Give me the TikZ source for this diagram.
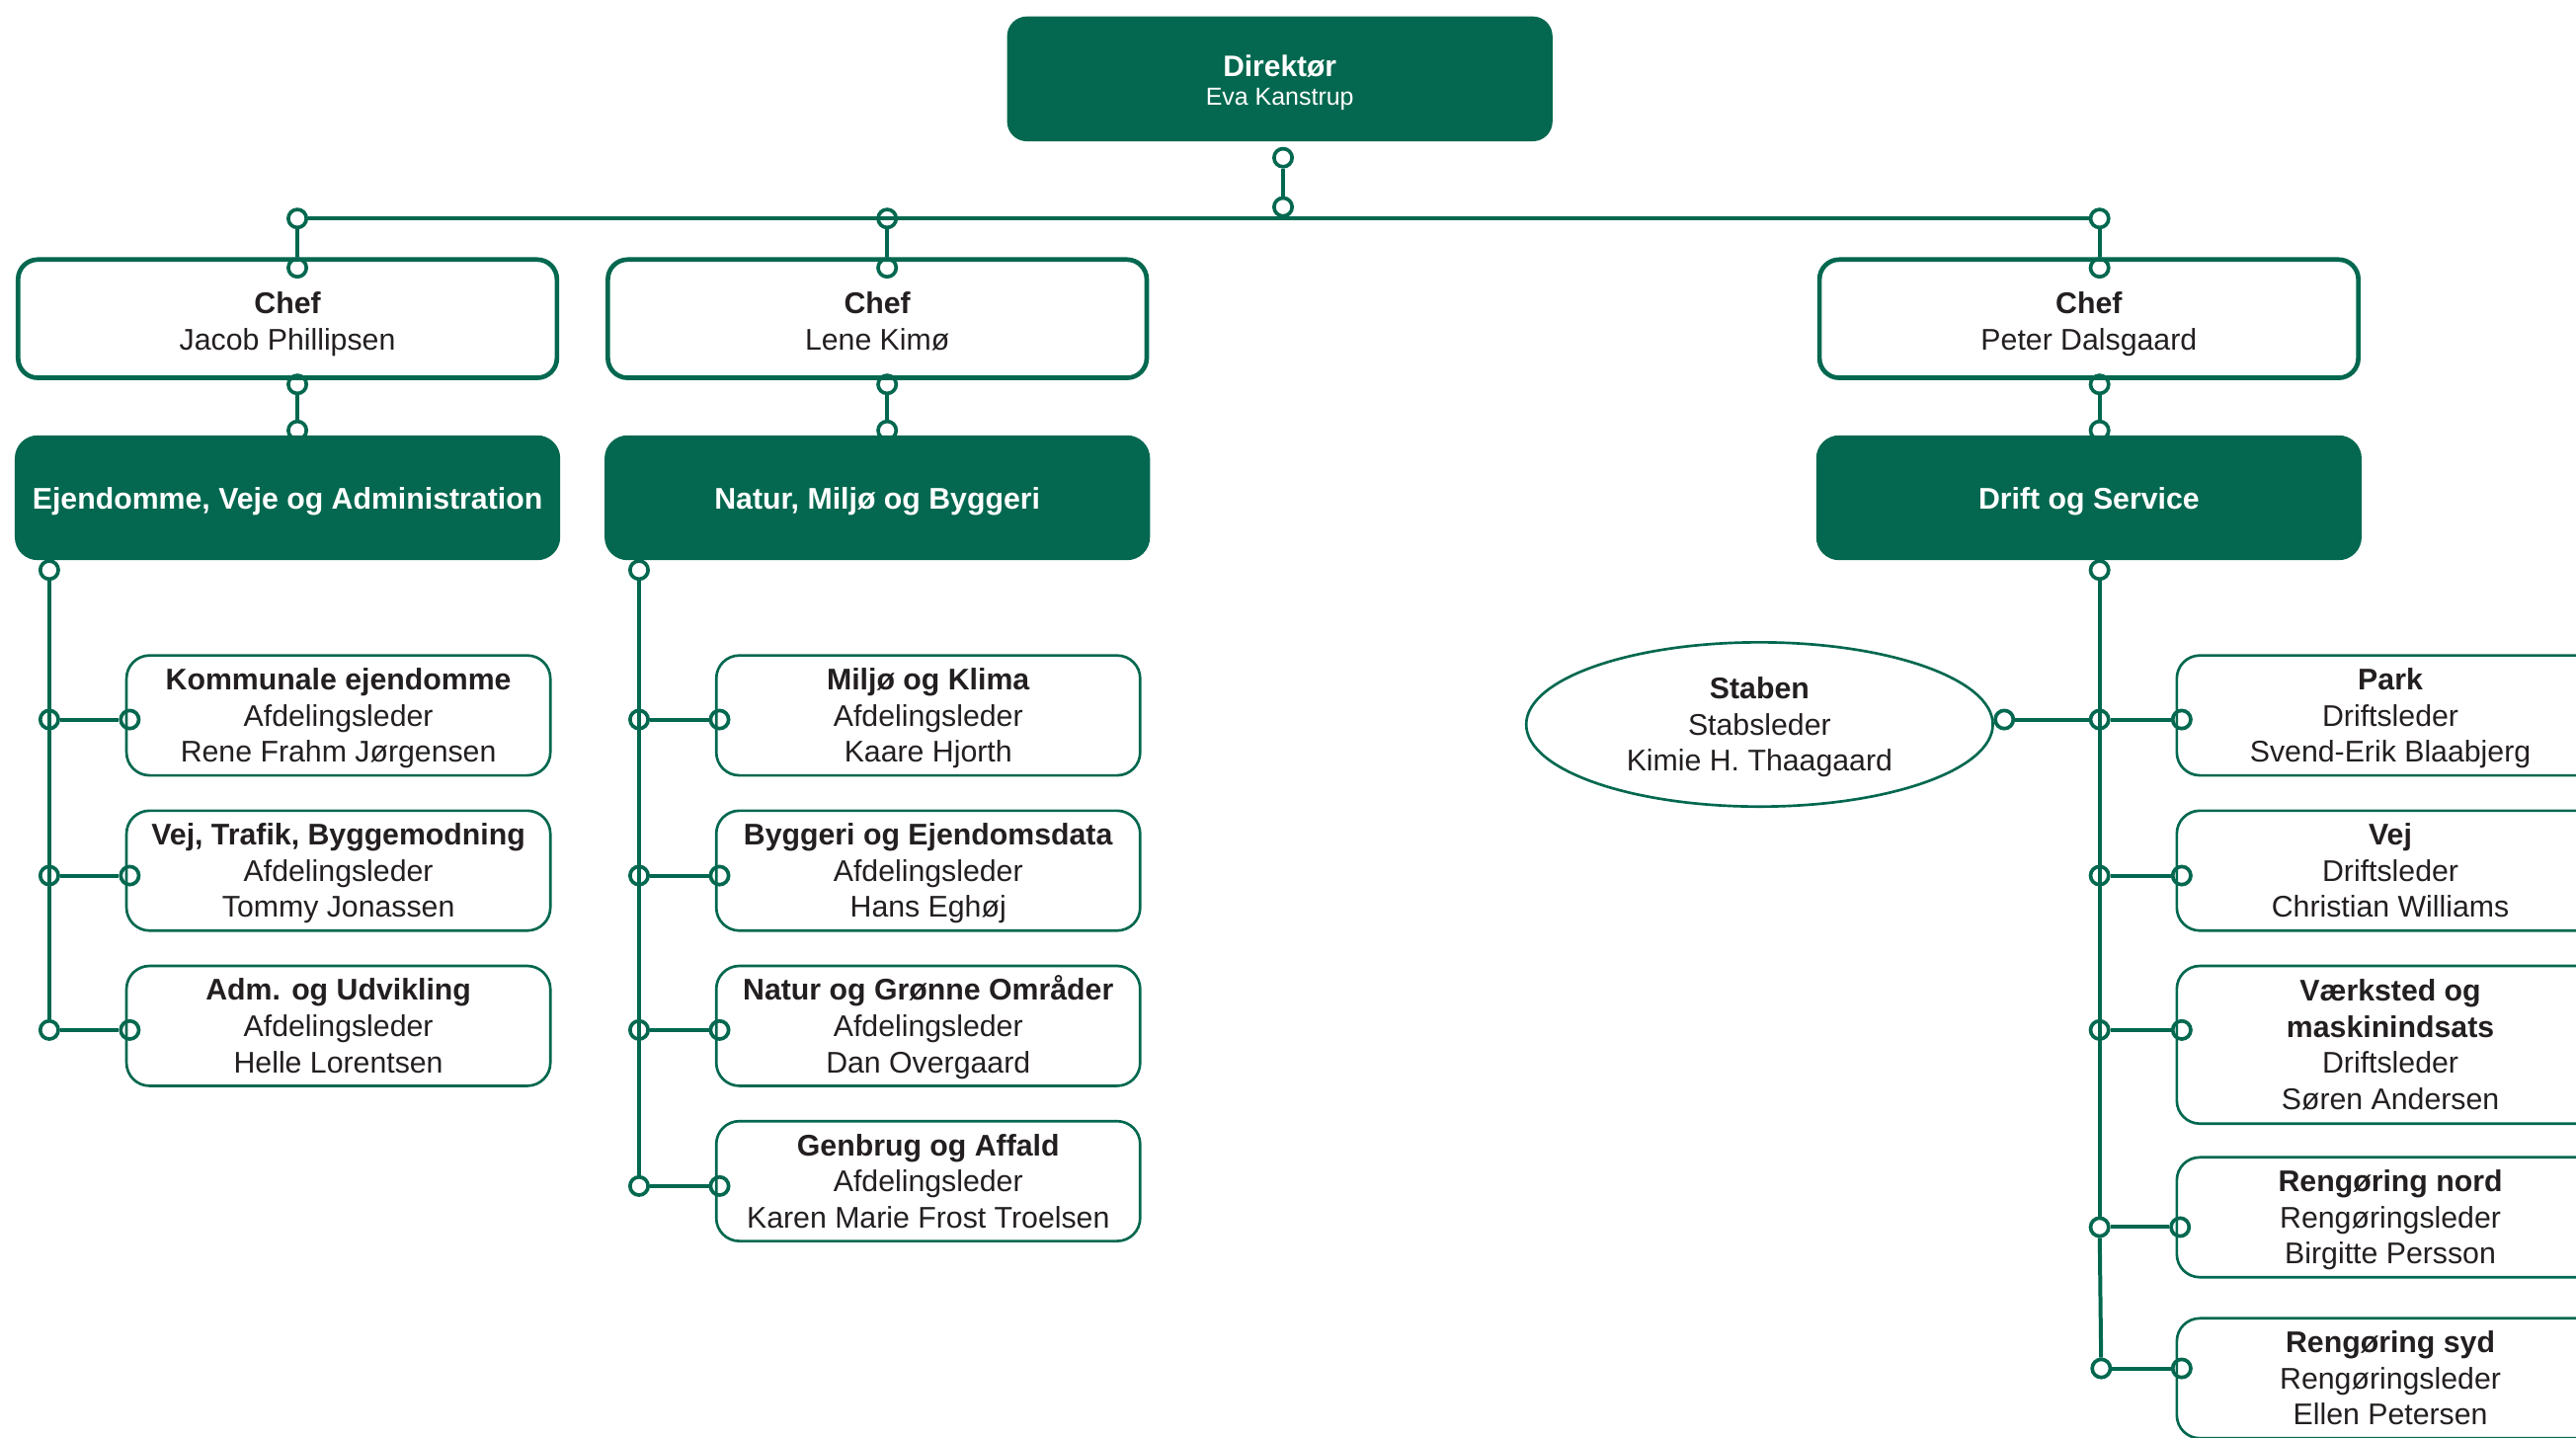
\documentclass[tikz,border=0pt]{standalone}
\usepackage{fontspec}
\setmainfont{Liberation Sans}
\usetikzlibrary{shapes.geometric}
\definecolor{grn}{HTML}{03684F}
\definecolor{txtc}{HTML}{231F20}
\newcommand{\ust}{\rule{0pt}{9.8pt}}
\newcommand{\cst}{\rule{0pt}{11.3pt}}
\tikzset{
  base/.style={font=\fontsize{9.1}{11}\selectfont, text=txtc, align=center, inner sep=0pt,
    execute at end node=\strut},
  dirbox/.style={font=\fontsize{7.5}{9}\selectfont, text=white, align=center, inner sep=0pt,
    fill=grn, rounded corners=6pt, minimum width=166pt, minimum height=38pt},
  chefbox/.style={base, draw=grn, fill=white, line width=1.4pt, rounded corners=6pt, minimum width=164pt, minimum height=36pt},
  deptbox/.style={base, fill=grn, text=white, font=\fontsize{9.1}{11}\selectfont\bfseries, rounded corners=7pt, minimum width=166pt, minimum height=38pt},
  unitbox/.style={base, draw=grn, fill=white, line width=0.8pt, rounded corners=7pt, minimum width=129pt, minimum height=36.5pt},
  stabbox/.style={base, ellipse, draw=grn, line width=0.8pt, minimum width=142pt, minimum height=50pt},
  dot/.style={circle, draw=grn, line width=1.1pt, minimum size=5.5pt, inner sep=0pt},
  conn/.style={draw=grn, line width=1.2pt}
}
\begin{document}
\begin{tikzpicture}[x=0.5pt,y=-0.5pt]
\useasboundingbox (0,0) rectangle (1568,875);
\clip (0,0) rectangle (1568,875);

% boxes
\node[dirbox] (dir) at (779,48) {\rule{0pt}{9.5pt}{\fontsize{9}{9}\selectfont\bfseries Direktør}\\Eva Kanstrup\rule[-2.2pt]{0pt}{0pt}};

\node[chefbox] (chef1) at (175,194) {\cst\textbf{Chef}\\Jacob Phillipsen};
\node[chefbox] (chef2) at (534,194) {\cst\textbf{Chef}\\Lene Kimø};
\node[chefbox] (chef3) at (1271.5,194) {\cst\textbf{Chef}\\Peter Dalsgaard};

\node[deptbox] (dept1) at (175,303) {\rule{0pt}{10.5pt}Ejendomme, Veje og Administration};
\node[deptbox] (dept2) at (534,303) {\rule{0pt}{10.5pt}Natur, Miljø og Byggeri};
\node[deptbox] (dept3) at (1271.5,303) {\rule{0pt}{10.5pt}Drift og Service};

\node[unitbox] (ua) at (206,435.5) {\ust\textbf{Kommunale ejendomme}\\Afdelingsleder\\Rene Frahm Jørgensen};
\node[unitbox] (ub) at (206,530) {\ust\textbf{Vej, Trafik, Byggemodning}\\Afdelingsleder\\Tommy Jonassen};
\node[unitbox] (uc) at (206,624.5) {\ust\textbf{Adm. og Udvikling}\\Afdelingsleder\\Helle Lorentsen};

\node[unitbox] (ma) at (565,435.5) {\ust\textbf{Miljø og Klima}\\Afdelingsleder\\Kaare Hjorth};
\node[unitbox] (mb) at (565,530) {\ust\textbf{Byggeri og Ejendomsdata}\\Afdelingsleder\\Hans Eghøj};
\node[unitbox] (mc) at (565,624.5) {\ust\textbf{Natur og Grønne Områder}\\Afdelingsleder\\Dan Overgaard};
\node[unitbox] (md) at (565,719) {\ust\textbf{Genbrug og Affald}\\Afdelingsleder\\Karen Marie Frost Troelsen};

\node[unitbox, minimum width=130pt] (ra) at (1455,435.5) {\ust\textbf{Park}\\Driftsleder\\Svend-Erik Blaabjerg};
\node[unitbox, minimum width=130pt] (rb) at (1455,530) {\ust\textbf{Vej}\\Driftsleder\\Christian Williams};
\node[unitbox, minimum width=130pt, minimum height=48pt] (rc) at (1455,636) {\ust\textbf{Værksted og}\\\textbf{maskinindsats}\\Driftsleder\\Søren Andersen};
\node[unitbox, minimum width=130pt] (rd) at (1455,741) {\ust\textbf{Rengøring nord}\\Rengøringsleder\\Birgitte Persson};
\node[unitbox, minimum width=130pt] (re) at (1455,839) {\ust\textbf{Rengøring syd}\\Rengøringsleder\\Ellen Petersen};

\node[stabbox] (stab) at (1071,441) {\ust\textbf{Staben}\\Stabsleder\\Kimie H. Thaagaard};

% connector dots
\node[dot] (ddir) at (781,96) {};
\node[dot] (dbus) at (781,126) {};
\node[dot] (b1) at (181,133) {};
\node[dot] (b2) at (540,133) {};
\node[dot] (b3) at (1278,133) {};
\node[dot] (ct1) at (181,163) {};
\node[dot] (ct2) at (540,163) {};
\node[dot] (ct3) at (1278,163) {};
\node[dot] (cb1) at (181,234) {};
\node[dot] (cb2) at (540,234) {};
\node[dot] (cb3) at (1278,234) {};
\node[dot] (dt1) at (181,262) {};
\node[dot] (dt2) at (540,262) {};
\node[dot] (dt3) at (1278,262) {};
\node[dot] (db1) at (30,347) {};
\node[dot] (db2) at (389,347) {};
\node[dot] (db3) at (1278,347) {};

\node[dot] (l1) at (30,438) {};
\node[dot] (l2) at (30,533) {};
\node[dot] (l3) at (30,627) {};
\node[dot] (la) at (79,438) {};
\node[dot] (lb) at (79,533) {};
\node[dot] (lc) at (79,627) {};

\node[dot] (m1) at (389,438) {};
\node[dot] (m2) at (389,533) {};
\node[dot] (m3) at (389,627) {};
\node[dot] (m4) at (389,722) {};
\node[dot] (mda) at (438,438) {};
\node[dot] (mdb) at (438,533) {};
\node[dot] (mdc) at (438,627) {};
\node[dot] (mdd) at (438,722) {};

\node[dot] (r1) at (1278,438) {};
\node[dot] (r2) at (1278,533) {};
\node[dot] (r3) at (1278,627) {};
\node[dot] (r4) at (1278,747) {};
\node[dot] (r5) at (1279,833) {};
\node[dot] (rda) at (1328,438) {};
\node[dot] (rdb) at (1328,533) {};
\node[dot] (rdc) at (1328,627) {};
\node[dot] (rdd) at (1327,747) {};
\node[dot] (rde) at (1328,833) {};
\node[dot] (sd) at (1220,438) {};

% connectors
\draw[conn] (ddir) -- (dbus);
\draw[conn] (b1) -- (b3);
\draw[conn] (b1) -- (ct1);
\draw[conn] (b2) -- (ct2);
\draw[conn] (b3) -- (ct3);
\draw[conn] (cb1) -- (dt1);
\draw[conn] (cb2) -- (dt2);
\draw[conn] (cb3) -- (dt3);

\draw[conn] (db1) -- (l3);
\draw[conn] (l1) -- (la);
\draw[conn] (l2) -- (lb);
\draw[conn] (l3) -- (lc);

\draw[conn] (db2) -- (m4);
\draw[conn] (m1) -- (mda);
\draw[conn] (m2) -- (mdb);
\draw[conn] (m3) -- (mdc);
\draw[conn] (m4) -- (mdd);

\draw[conn] (db3) -- (r4);
\draw[conn] (r4) -- (r5);
\draw[conn] (r1) -- (rda);
\draw[conn] (r2) -- (rdb);
\draw[conn] (r3) -- (rdc);
\draw[conn] (r4) -- (rdd);
\draw[conn] (r5) -- (rde);
\draw[conn] (sd) -- (r1);
\end{tikzpicture}
\end{document}
